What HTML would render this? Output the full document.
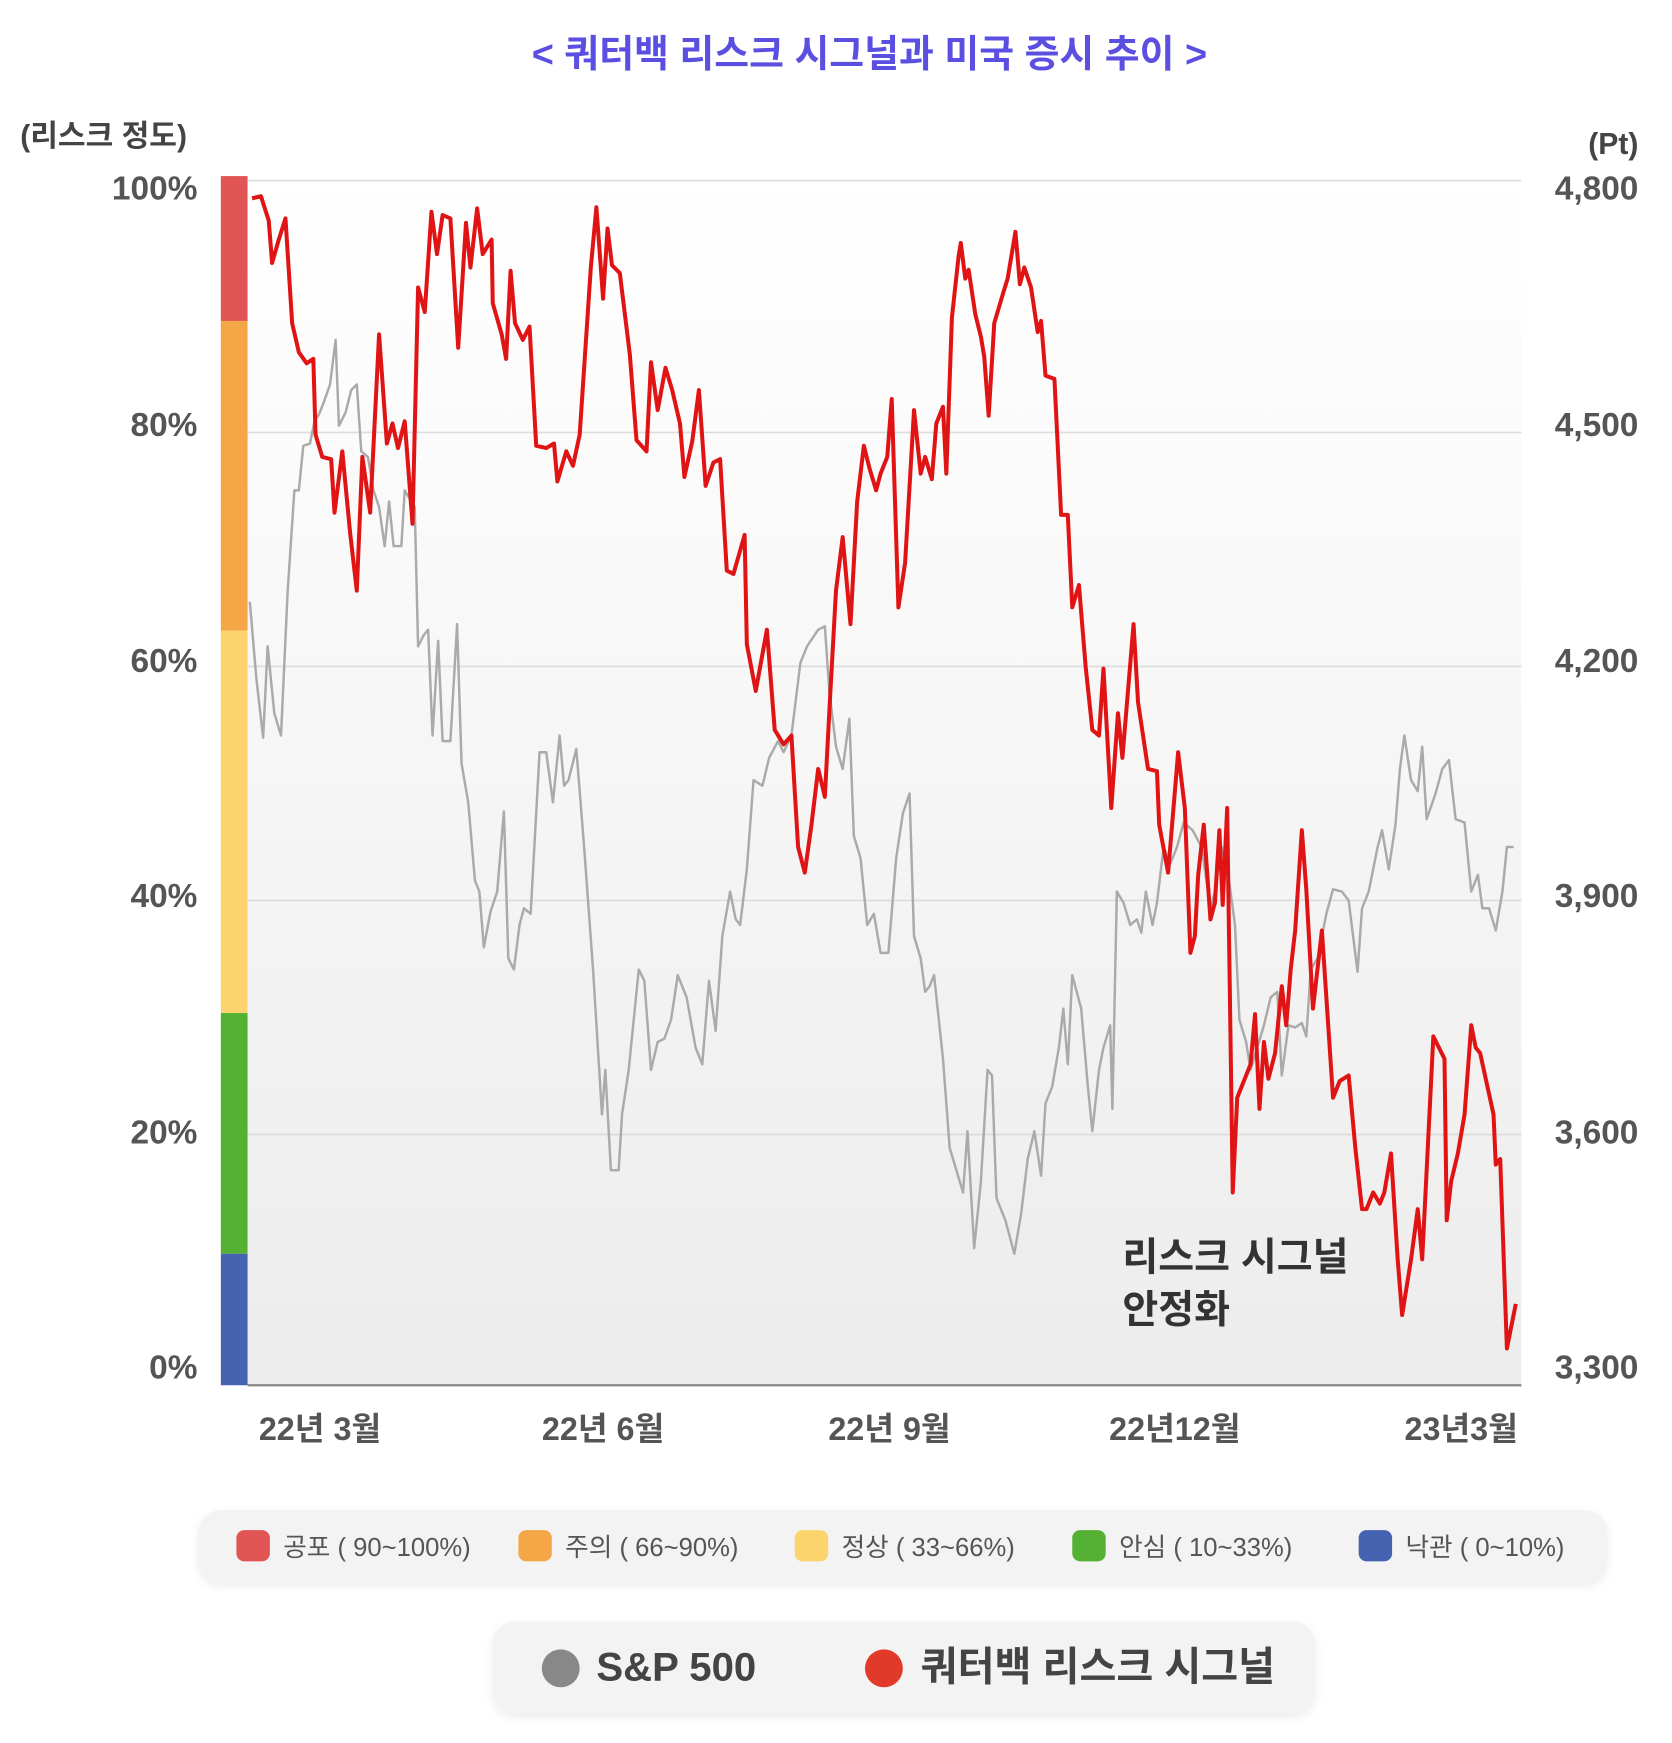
<!DOCTYPE html>
<html><head><meta charset="utf-8">
<style>
html,body{margin:0;padding:0;background:#fff;width:1672px;height:1743px;overflow:hidden}
svg{display:block}
text{font-family:"Liberation Sans","Noto Sans CJK KR",sans-serif}
</style></head>
<body>
<svg width="1672" height="1743" viewBox="0 0 1500 1564" xmlns="http://www.w3.org/2000/svg">
<defs>
<linearGradient id="bg" x1="0" y1="0" x2="0" y2="1">
<stop offset="0" stop-color="#ffffff"/><stop offset="1" stop-color="#ececec"/>
</linearGradient>
<filter id="sh" x="-5%" y="-30%" width="110%" height="160%"><feDropShadow dx="0" dy="3" stdDeviation="4" flood-color="#000" flood-opacity="0.08"/></filter>
</defs>
<text x="780" y="60" text-anchor="middle" font-size="34" font-weight="bold" fill="#5a4fe0">&lt; 쿼터백 리스크 시그널과 미국 증시 추이 &gt;</text>
<text x="18" y="131" font-size="27" font-weight="bold" fill="#444">(리스크 정도)</text>
<text x="1470" y="138" text-anchor="end" font-size="27" font-weight="bold" fill="#444">(Pt)</text>

<rect x="222" y="158" width="1143" height="1085" fill="url(#bg)"/>
<g stroke="#dcdcdc" stroke-width="1.5">
<line x1="222" y1="162" x2="1365" y2="162"/><line x1="222" y1="388" x2="1365" y2="388"/>
<line x1="222" y1="598" x2="1365" y2="598"/><line x1="222" y1="808" x2="1365" y2="808"/>
<line x1="222" y1="1018" x2="1365" y2="1018"/>
</g>
<line x1="222" y1="1243" x2="1365" y2="1243" stroke="#888" stroke-width="2"/>

<rect x="198" y="158" width="24" height="130" fill="#e25555"/>
<rect x="198" y="288" width="24" height="278" fill="#f5a647"/>
<rect x="198" y="566" width="24" height="343" fill="#fdd36d"/>
<rect x="198" y="909" width="24" height="216" fill="#55b133"/>
<rect x="198" y="1125" width="24" height="118" fill="#4563b0"/>

<g font-size="30" font-weight="bold" fill="#555" text-anchor="end">
<text x="177" y="179">100%</text><text x="177" y="391">80%</text><text x="177" y="603">60%</text>
<text x="177" y="814">40%</text><text x="177" y="1026">20%</text><text x="177" y="1237">0%</text>
</g>
<g font-size="30" font-weight="bold" fill="#555" text-anchor="end">
<text x="1470" y="179">4,800</text><text x="1470" y="391">4,500</text><text x="1470" y="603">4,200</text>
<text x="1470" y="814">3,900</text><text x="1470" y="1026">3,600</text><text x="1470" y="1237">3,300</text>
</g>
<g font-size="29" font-weight="bold" fill="#555" text-anchor="middle">
<text x="287" y="1292">22년 3월</text><text x="541" y="1292">22년 6월</text><text x="798" y="1292">22년 9월</text>
<text x="1054" y="1292">22년12월</text><text x="1311" y="1292">23년3월</text>
</g>

<polyline fill="none" stroke="#aaa" stroke-width="2.2" stroke-linejoin="round" points="224,540 230,610 236,662 240,580 246,640 252,660 258,530 264,440 268,440 272,400 278,398 282,378 286,372 290,362 296,345 301,305 304,382 310,370 315,350 320,345 324,405 330,410 335,440 340,455 345,490 349,450 353,490 360,490 363,440 372,455 375,580 380,570 384,565 388,660 393,575 397,665 404,665 410,560 414,685 420,720 426,790 430,800 434,850 440,818 446,800 452,728 456,860 461,870 466,830 470,815 476,820 484,675 490,675 496,720 502,660 506,705 510,700 517,672 524,760 532,870 540,1000 543,960 548,1050 555,1050 558,1000 564,960 568,920 573,870 578,880 584,960 590,935 596,932 602,915 608,875 616,895 624,940 630,955 636,880 642,925 648,840 655,800 660,825 664,830 670,780 676,700 684,705 690,680 698,665 703,675 710,660 718,595 724,580 734,565 740,562 744,620 750,670 756,690 762,645 766,750 772,770 778,830 784,820 790,855 797,855 804,770 810,730 816,712 820,840 826,860 830,890 834,885 838,875 846,950 852,1030 858,1050 864,1070 868,1015 874,1120 880,1060 886,960 890,965 894,1075 902,1095 910,1125 916,1090 922,1040 928,1015 934,1055 938,990 944,975 950,940 954,905 958,955 962,875 970,905 976,975 980,1015 986,960 990,940 996,920 998,995 1002,800 1008,810 1014,830 1020,825 1024,837 1028,800 1034,830 1038,810 1044,760 1050,775 1056,760 1062,738 1070,745 1078,760 1086,815 1090,800 1096,760 1102,785 1108,830 1112,915 1118,935 1122,960 1128,940 1134,920 1140,895 1146,890 1150,965 1156,920 1162,922 1168,918 1172,930 1176,870 1182,860 1190,820 1196,798 1204,800 1210,808 1214,840 1218,872 1222,815 1228,800 1236,760 1240,745 1246,780 1252,740 1256,690 1260,660 1266,700 1272,710 1276,670 1280,735 1288,712 1294,690 1300,682 1306,735 1314,738 1320,800 1326,785 1330,815 1336,815 1342,835 1348,800 1352,760 1358,760"/>

<polyline fill="none" stroke="#e01414" stroke-width="3.6" stroke-linejoin="round" points="226,178 234,176 241,198 244,236 250,215 256,196 262,290 268,316 275,326 281,322 283,390 289,410 297,412 300,460 307,405 314,478 320,530 325,410 332,460 340,300 347,398 352,380 357,402 363,378 370,470 375,258 381,280 387,190 392,228 397,193 404,196 411,312 418,200 422,240 428,187 433,228 441,215 442,272 450,300 454,322 458,243 462,290 469,305 475,293 481,400 490,402 497,398 500,432 508,405 514,418 520,390 530,240 535,186 541,268 545,205 549,238 556,245 565,318 571,395 580,405 584,325 590,368 597,330 603,350 610,380 614,428 621,396 627,350 633,436 640,415 646,412 652,512 658,515 668,480 670,578 678,620 688,565 695,655 703,668 710,660 716,760 722,783 728,740 734,690 740,715 745,620 750,530 756,482 763,560 769,450 775,400 780,420 786,440 790,425 796,410 800,358 806,545 812,505 820,368 826,425 830,410 836,430 840,380 846,365 849,425 854,285 860,230 862,218 866,250 869,242 875,282 880,302 883,320 887,373 892,290 900,263 904,250 911,208 915,255 919,240 925,258 931,298 934,288 938,337 946,340 952,462 958,462 962,545 968,525 974,598 980,655 986,660 990,600 997,725 1003,640 1007,680 1012,620 1017,560 1021,630 1030,690 1038,692 1040,740 1048,783 1057,675 1063,725 1068,855 1072,840 1075,785 1080,740 1086,825 1090,810 1094,745 1097,812 1101,725 1106,1070 1110,985 1116,970 1122,955 1126,910 1130,995 1134,935 1138,968 1144,945 1150,885 1154,920 1158,870 1162,835 1168,745 1172,798 1178,905 1182,870 1186,835 1190,895 1196,985 1202,970 1210,965 1216,1030 1222,1085 1226,1085 1232,1070 1238,1080 1242,1070 1248,1035 1254,1130 1258,1180 1266,1130 1272,1085 1276,1130 1286,930 1296,950 1298,1095 1302,1060 1308,1035 1314,1000 1320,920 1324,940 1328,945 1340,1000 1342,1045 1346,1040 1352,1210 1360,1170"/>

<text x="1007" y="1140" font-size="35" font-weight="bold" fill="#333">리스크 시그널</text>
<text x="1007" y="1187" font-size="35" font-weight="bold" fill="#333">안정화</text>

<rect x="178" y="1355" width="1264" height="65" rx="20" fill="#f3f3f3" filter="url(#sh)"/>
<g font-size="23" fill="#555">
<rect x="212" y="1373" width="30" height="28" rx="7" fill="#e25555"/><text x="254" y="1396">공포 ( 90~100%)</text>
<rect x="465" y="1373" width="30" height="28" rx="7" fill="#f5a647"/><text x="507" y="1396">주의 ( 66~90%)</text>
<rect x="713" y="1373" width="30" height="28" rx="7" fill="#fdd36d"/><text x="755" y="1396">정상 ( 33~66%)</text>
<rect x="962" y="1373" width="30" height="28" rx="7" fill="#55b133"/><text x="1004" y="1396">안심 ( 10~33%)</text>
<rect x="1219" y="1373" width="30" height="28" rx="7" fill="#4563b0"/><text x="1261" y="1396">낙관 ( 0~10%)</text>
</g>

<rect x="442" y="1455" width="738" height="83" rx="20" fill="#f3f3f3" filter="url(#sh)"/>
<circle cx="503" cy="1497" r="17" fill="#888"/>
<text x="535" y="1508" font-size="36" font-weight="bold" fill="#444">S&amp;P 500</text>
<circle cx="793" cy="1497" r="17" fill="#e23a2a"/>
<text x="826" y="1508" font-size="36" font-weight="bold" fill="#444">쿼터백 리스크 시그널</text>
</svg>
</body></html>
